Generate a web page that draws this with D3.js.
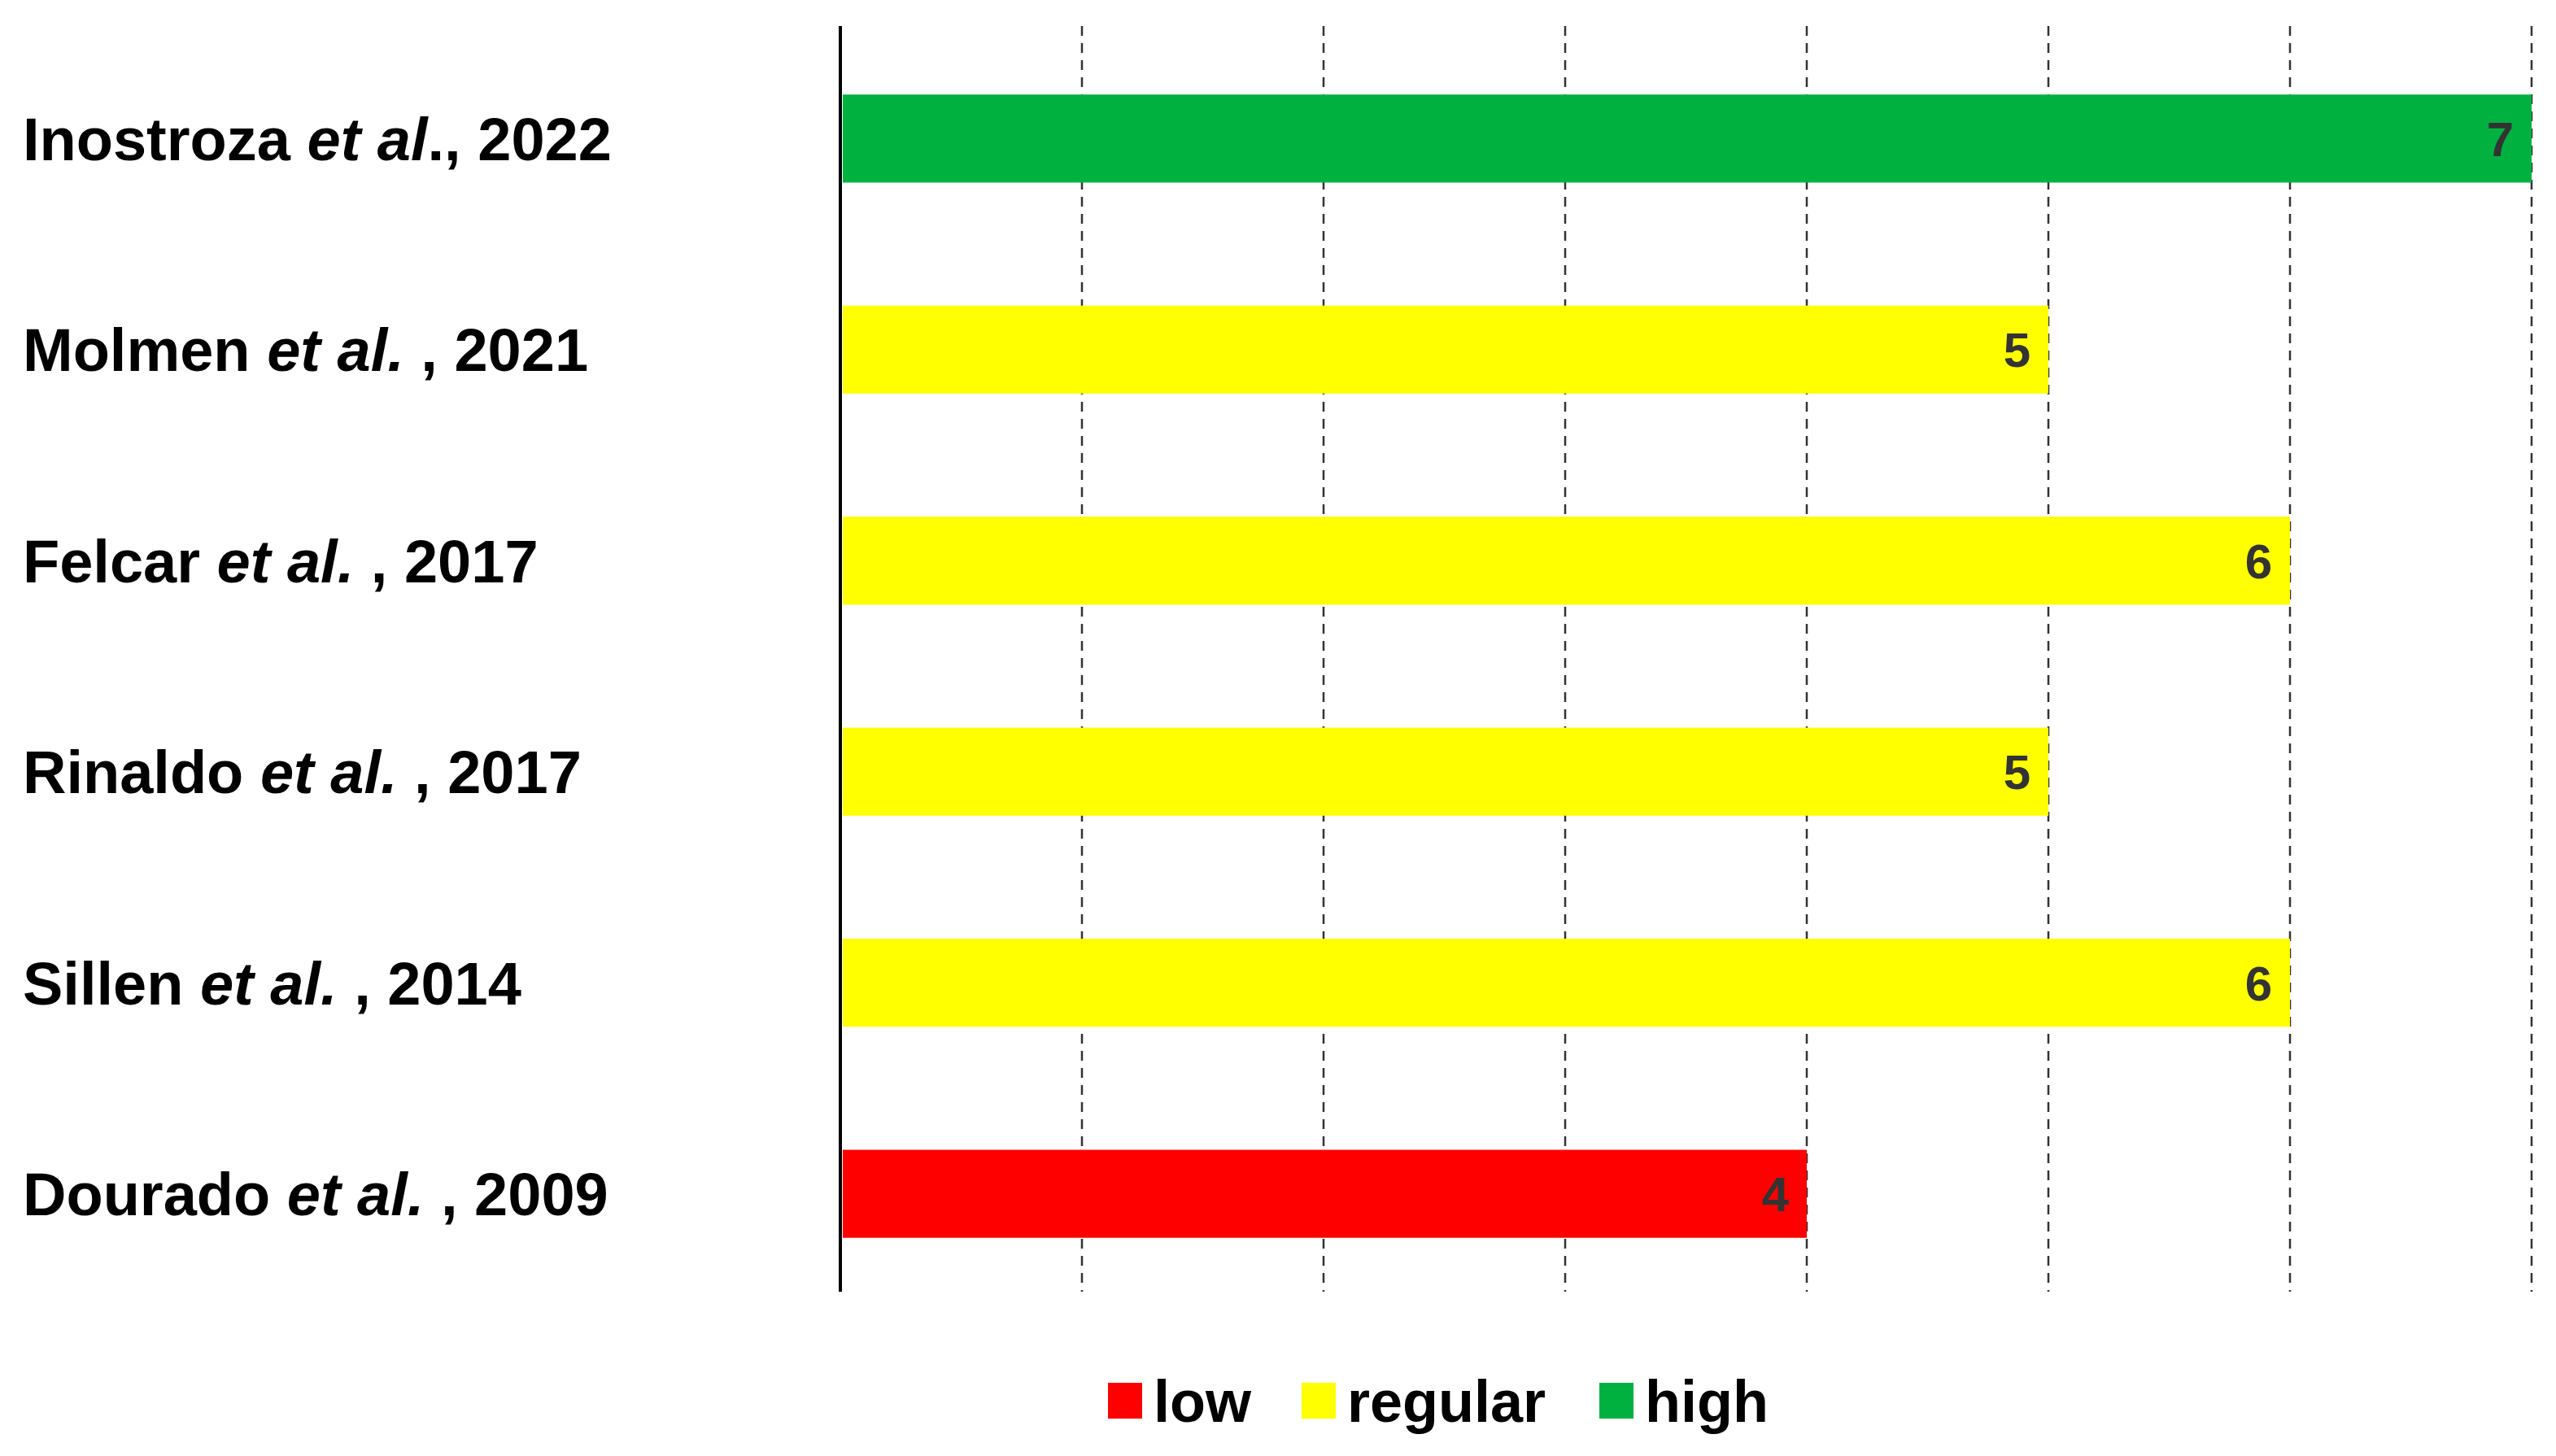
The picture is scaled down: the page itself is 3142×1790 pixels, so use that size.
<!DOCTYPE html>
<html><head><meta charset="utf-8">
<script src="https://cdn.jsdelivr.net/npm/d3@7"></script>
<style>body{margin:0;background:#fff}</style></head>
<body><svg id="c" width="3142" height="1790"></svg>
<script>
// ── Data ────────────────────────────────────────────────────────────────
const authors = ['Inostroza', 'Molmen', 'Felcar', 'Rinaldo', 'Sillen', 'Dourado'];
const years   = ['2022', '2021', '2017', '2017', '2014', '2009'];
const scores  = [7, 5, 6, 5, 6, 4];
const levels  = ['high', 'regular', 'regular', 'regular', 'regular', 'low'];
const legendKeys = ['low', 'regular', 'high'];
const levelColors = { low: '#ff0000', regular: '#ffff00', high: '#00b140' };

const svg = d3.select('#c');
const font = 'Arial, "Liberation Sans", sans-serif';
const plotL = 1033, plotR = 3112, plotT = 32, plotB = 1588;

const x = d3.scaleLinear().domain([0, 7]).range([plotL, plotR]);
const y = d3.scaleBand().domain(d3.range(authors.length))
  .range([41, 1597]).paddingInner(0.583).paddingOuter(0.29);

// gridlines
svg.append('g').selectAll('line').data(d3.range(1, 8)).join('line')
  .attr('x1', d => x(d)).attr('x2', d => x(d))
  .attr('y1', plotT).attr('y2', plotB)
  .attr('stroke', '#333').attr('stroke-width', 2.5).attr('stroke-dasharray', '12,9');

// bars
svg.append('g').selectAll('rect').data(scores).join('rect')
  .attr('x', x(0) + 3).attr('y', (d, i) => y(i))
  .attr('width', d => x(d) - x(0) - 3).attr('height', y.bandwidth())
  .attr('fill', (d, i) => levelColors[levels[i]]);

// value labels
svg.append('g').selectAll('text').data(scores).join('text')
  .attr('x', d => x(d) - 22).attr('y', (d, i) => y(i) + y.bandwidth() / 2)
  .attr('dy', '0.36em').attr('text-anchor', 'end')
  .attr('font-family', font).attr('font-weight', 'bold').attr('font-size', 60)
  .attr('fill', '#333').text(d => d);

// y axis line
svg.append('line').attr('x1', plotL).attr('x2', plotL).attr('y1', plotT).attr('y2', plotB)
  .attr('stroke', '#000').attr('stroke-width', 4);

// category labels
const lab = svg.append('g').selectAll('text').data(authors).join('text')
  .attr('x', 28).attr('y', (d, i) => y(i) + y.bandwidth() / 2)
  .attr('dy', '0.36em')
  .attr('font-family', font).attr('font-weight', 'bold').attr('font-size', 74)
  .attr('fill', '#000');
lab.append('tspan').text(d => d + ' ');
lab.append('tspan').attr('font-style', 'italic').text((d, i) => i === 0 ? 'et al' : 'et al.');
lab.append('tspan').text((d, i) => (i === 0 ? '., ' : ' , ') + years[i]);

// legend
const legX = [1362, 1600, 1966];
const leg = svg.append('g').selectAll('g').data(legendKeys).join('g')
  .attr('transform', (d, i) => `translate(${legX[i]},1722)`);
leg.append('rect').attr('x', 0).attr('y', -22).attr('width', 42).attr('height', 44)
  .attr('fill', d => levelColors[d]);
leg.append('text').attr('x', 56).attr('dy', '0.36em')
  .attr('font-family', font).attr('font-weight', 'bold').attr('font-size', 72)
  .text(d => d);
</script></body></html>
